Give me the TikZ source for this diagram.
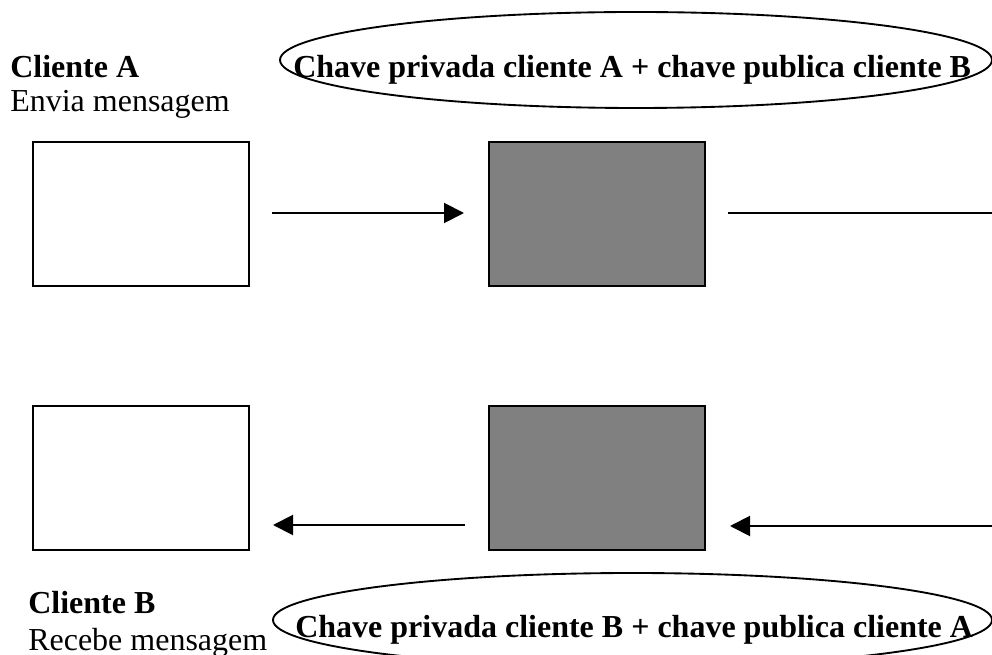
\documentclass[tikz,border=0pt]{standalone}
\usepackage{fontspec}
\setmainfont{Liberation Serif}
\usetikzlibrary{arrows.meta,shapes.geometric}
\definecolor{boxgray}{HTML}{808080}
\begin{document}
\begin{tikzpicture}[x=0.75pt,y=-0.75pt,
  lbl/.style={anchor=base west,inner sep=0pt,font=\fontsize{24}{28}\selectfont},
  blbl/.style={lbl,font=\fontsize{24}{28}\selectfont\bfseries},
  keyell/.style={draw,line width=1.4pt,ellipse,inner sep=0pt},
  plainbox/.style={draw,line width=1.5pt,fill=white,inner sep=0pt},
  graybox/.style={draw,line width=1.5pt,fill=boxgray,inner sep=0pt},
  conn/.style={line width=1.5pt},
  arr/.style={conn,-{Triangle[length=15pt,width=15pt]}}]
\useasboundingbox (0,0) rectangle (992,655);
\clip (0,0) rectangle (992,655);
% ellipses
\node[keyell,minimum width=712*0.75pt,minimum height=96*0.75pt] (e1) at (636,60) {};
\node[keyell,minimum width=719*0.75pt,minimum height=94*0.75pt] (e2) at (632.5,620) {};
\node[blbl] (k1) at (293,78) {Chave privada cliente A + chave publica cliente B};
\node[blbl] (k2) at (295,637) {Chave privada cliente B + chave publica cliente A};
% labels
\node[blbl] (ca) at (10,78) {Cliente A};
\node[lbl] (ea) at (10,112) {Envia mensagem};
\node[blbl] (cb) at (28,613) {Cliente B};
\node[lbl] (rb) at (28,650) {Recebe mensagem};
% boxes
\node[plainbox,minimum width=216*0.75pt,minimum height=144*0.75pt] (b1) at (141,214) {};
\node[graybox,minimum width=216*0.75pt,minimum height=144*0.75pt] (g1) at (597,214) {};
\node[plainbox,minimum width=216*0.75pt,minimum height=144*0.75pt] (b2) at (141,478) {};
\node[graybox,minimum width=216*0.75pt,minimum height=144*0.75pt] (g2) at (597,478) {};
% connector end points
\coordinate (a1s) at (272,213);
\coordinate (a1e) at (464,213);
\coordinate (r1s) at (728,213);
\coordinate (r1e) at (995,213);
\coordinate (r2s) at (995,526);
\coordinate (r2e) at (730,526);
\coordinate (a2s) at (465,525);
\coordinate (a2e) at (273,525);
\draw[arr] (a1s) -- (a1e);
\draw[conn] (r1s) -- (r1e);
\draw[arr] (r2s) -- (r2e);
\draw[arr] (a2s) -- (a2e);
\end{tikzpicture}
\end{document}
